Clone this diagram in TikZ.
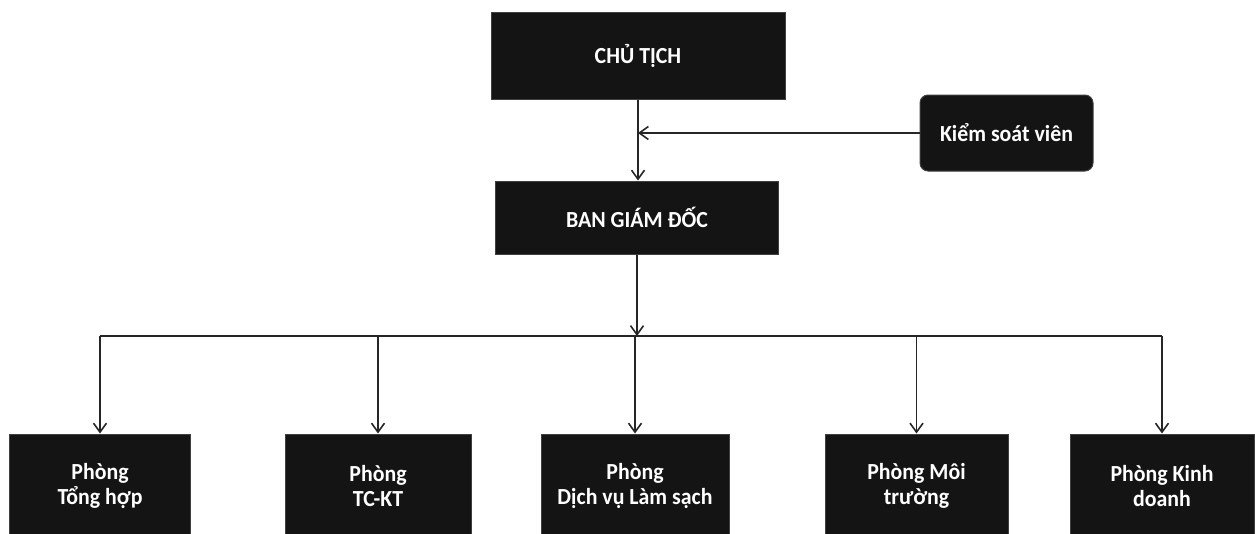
\documentclass[tikz,border=0pt]{standalone}
\usepackage{fontspec}
\setmainfont{Carlito}[FakeStretch=0.95]
\usetikzlibrary{arrows.meta}
\tikzset{
  box/.style={fill=black!92, draw=black!75, line width=1pt, text=white,
    font=\fontsize{23}{25.5}\selectfont\bfseries, align=center, inner sep=0pt},
  arr/.style={-{Straight Barb[length=9pt,width=13pt,line width=1.6pt]}, line width=1.9pt, black!85},
  link/.style={line width=1.9pt, black!85}
}
\begin{document}
\begin{tikzpicture}[x=1pt,y=-1pt]
\useasboundingbox (0,0) rectangle (1255,533);
\fill[white] (0,0) rectangle (1255,533);
\begin{scope}
\clip (0,0) rectangle (1255,533);
\node[box, minimum width=294pt, minimum height=87pt] (chu) at (638,55.5) {CHỦ TỊCH};
\node[box, rounded corners=8pt, minimum width=173pt, minimum height=76pt] (ksv) at (1006.5,133) {Kiểm soát viên};
\node[box, minimum width=283pt, minimum height=73pt] (bgd) at (637,217.5) {BAN GIÁM ĐỐC};
\node[box, minimum width=181pt, minimum height=104pt] (b1) at (100,486) {Phòng\\Tổng hợp};
\node[box, minimum width=186pt, minimum height=104pt] (b2) at (378,486) {Phòng\\TC-KT};
\node[box, minimum width=188pt, minimum height=104pt] (b3) at (635,486) {Phòng\\Dịch vụ Làm sạch};
\node[box, minimum width=183pt, minimum height=104pt] (b4) at (916.5,486) {Phòng Môi\\trường};
\node[box, minimum width=184pt, minimum height=104pt] (b5) at (1162,486) {Phòng Kinh\\doanh};
\end{scope}
\coordinate (bus) at (637,336);
\draw[arr] (chu.south) -- (chu.south |- bgd.north);
\draw[arr] (ksv.west) -- (ksv.west -| chu.south);
\draw[arr] (bgd.south) -- (bgd.south |- bus);
\draw[link] (b1.north |- bus) -- (b5.north |- bus);
\foreach \b in {b1,b2,b3,b4,b5}{
  \draw[arr] (\b.north |- bus) -- (\b.north);
}
\end{tikzpicture}
\end{document}
